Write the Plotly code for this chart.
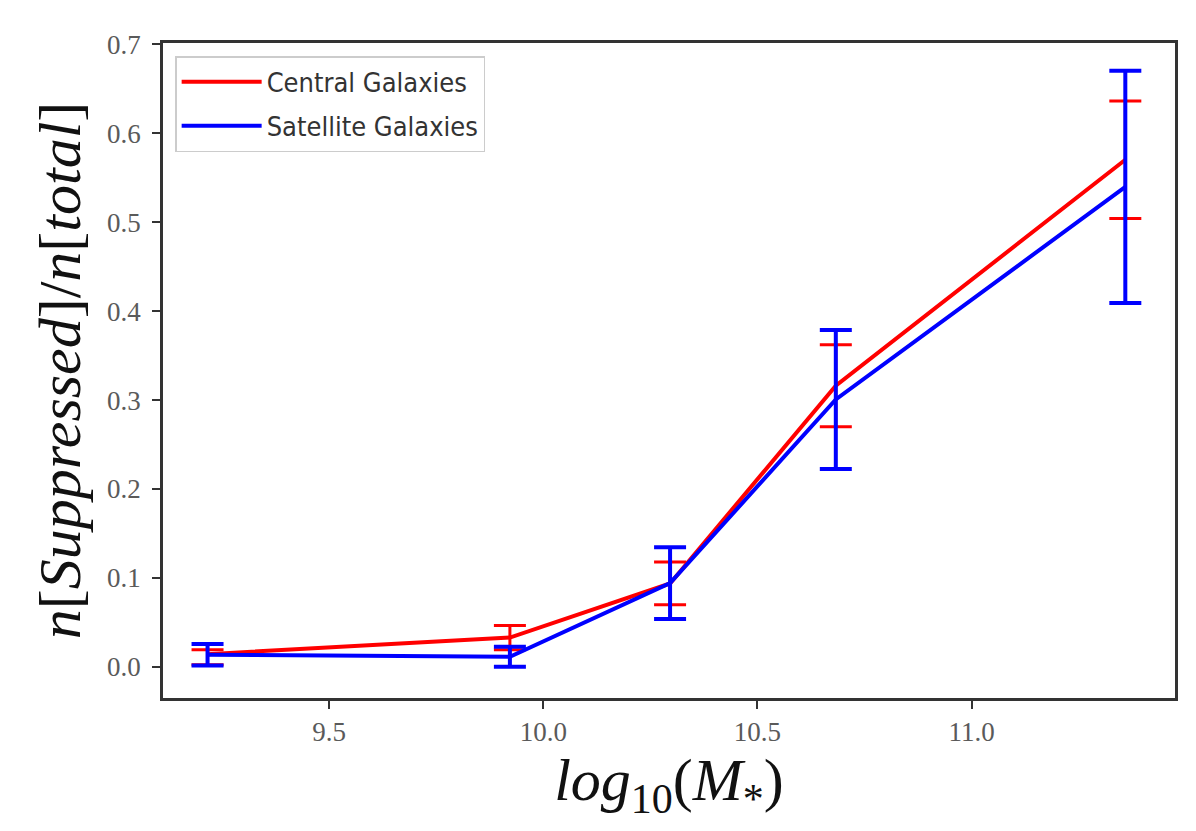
import plotly.graph_objects as go

# stellar mass bins (log10 M*)
mass = [9.216, 9.922, 10.296, 10.683, 11.359]

# central galaxies: suppressed fraction and error bars
central_frac = [0.0145, 0.0331, 0.0939, 0.3161, 0.570]
central_err_up = [0.005, 0.0137, 0.0240, 0.0461, 0.066]
central_err_down = [0.012, 0.0137, 0.0240, 0.0461, 0.066]

# satellite galaxies
satellite_frac = [0.0138, 0.0115, 0.0943, 0.3006, 0.5395]
satellite_err = [0.0122, 0.0112, 0.0404, 0.0780, 0.1305]

xticks = [9.5, 10.0, 10.5, 11.0]
yticks = [0.0, 0.1, 0.2, 0.3, 0.4, 0.5, 0.6, 0.7]

fig = go.Figure()

fig.add_trace(go.Scatter(
    x=mass, y=central_frac, mode="lines", name="Central Galaxies",
    legendgroup="central",
    line=dict(color="#ff0000", width=4),
    error_y=dict(type="data", symmetric=False, array=central_err_up,
                 arrayminus=central_err_down, color="#ff0000",
                 thickness=3, width=16),
))
fig.add_trace(go.Scatter(
    x=mass, y=satellite_frac, mode="lines", name="Satellite Galaxies",
    legendgroup="satellite",
    line=dict(color="#0000ff", width=4),
    error_y=dict(type="data", array=satellite_err, color="#0000ff",
                 thickness=4, width=16),
))

axis_common = dict(
    showline=True, linecolor="#333333", linewidth=2.5, mirror=True,
    ticks="outside", ticklen=8, tickwidth=2, tickcolor="#333333",
    showgrid=False, zeroline=False,
    tickfont=dict(family="Liberation Serif", size=27, color="#5a5a5a"),
)

fig.update_xaxes(
    range=[9.112, 11.475], tickvals=xticks, tickformat=".1f",
    title=dict(text="<i>log</i><sub>10</sub>(<i>M</i><sub>*</sub>)",
               font=dict(family="Liberation Serif", size=60, color="#111111"),
               standoff=4),
    **axis_common,
)
fig.update_yaxes(
    range=[-0.0348, 0.7012], tickvals=yticks, tickformat=".1f",
    ticklabelstandoff=6,
    title=dict(text="<i>n</i>[<i>Suppressed</i>]/<i>n</i>[<i>total</i>]",
               font=dict(family="Liberation Serif", size=60, color="#111111"),
               standoff=8),
    **axis_common,
)

fig.update_layout(
    width=1196, height=831,
    margin=dict(l=155, r=29, t=35, b=141),
    paper_bgcolor="white", plot_bgcolor="white",
    showlegend=True,
    legend=dict(
        x=0.012, y=0.98, xanchor="left", yanchor="top",
        bgcolor="white", bordercolor="#cccccc", borderwidth=1.5,
        font=dict(family="DejaVu Sans Condensed, DejaVu Sans", size=27, color="#333333"),
        itemwidth=80, tracegroupgap=6,
    ),
)

fig.write_html("out.html")
